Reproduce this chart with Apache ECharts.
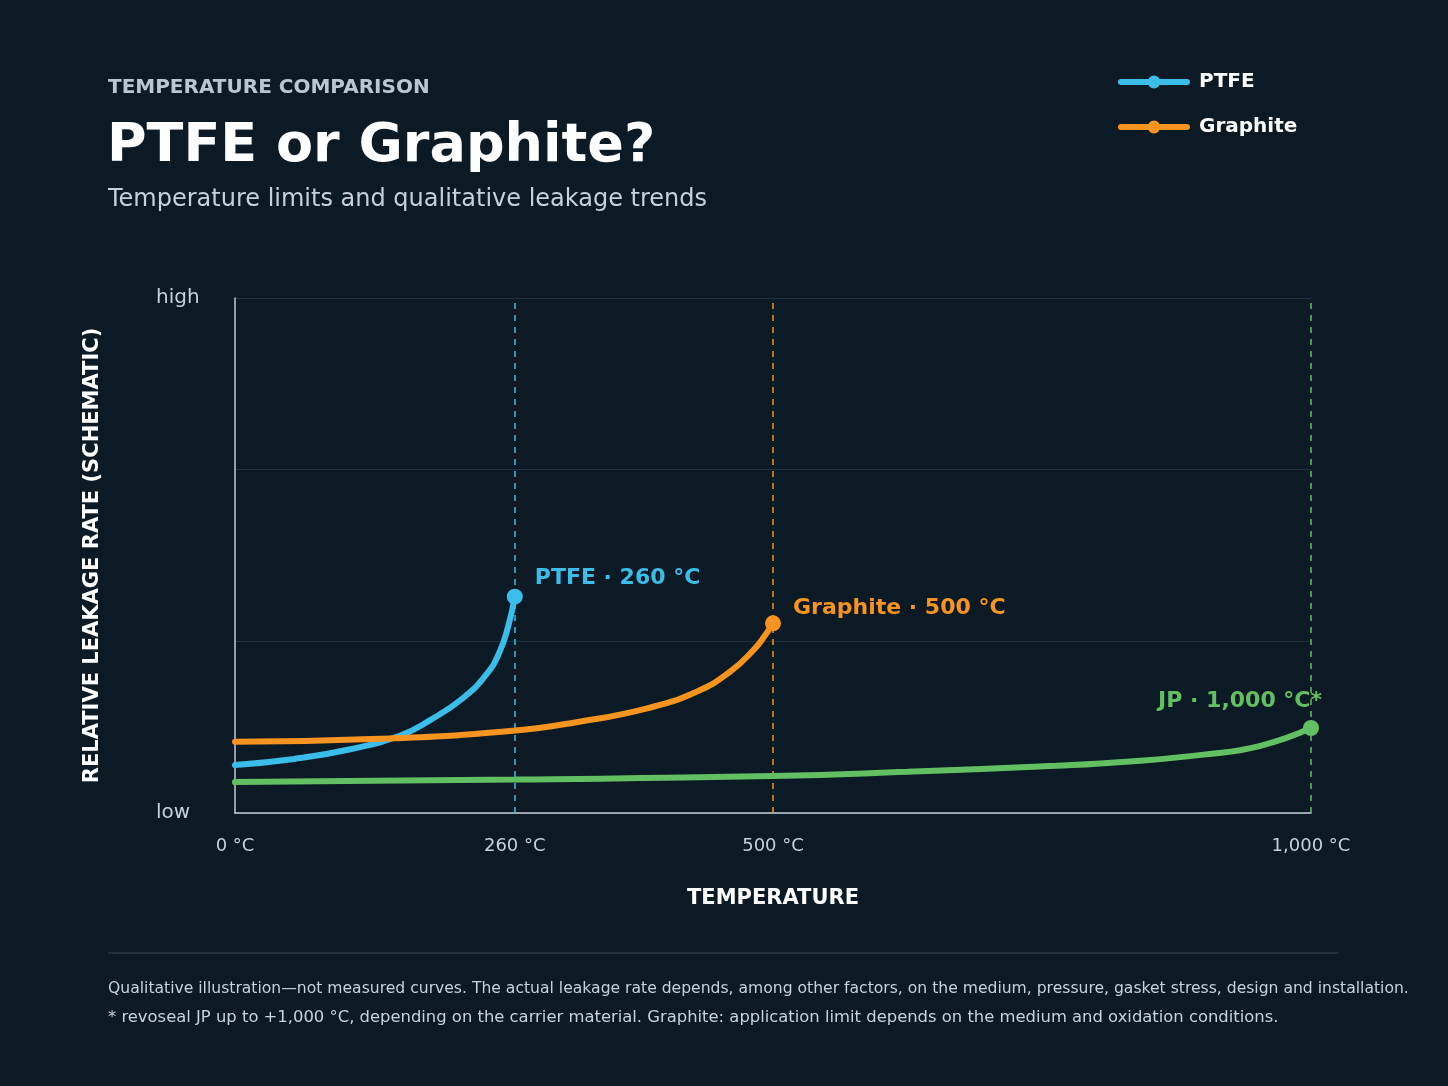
<!DOCTYPE html>
<html>
<head>
<meta charset="utf-8">
<title>PTFE or Graphite?</title>
<script src="https://cdn.jsdelivr.net/npm/echarts@6.0.0/dist/echarts.min.js"></script>
<style>
    html, body { margin: 0; padding: 0; background: #0c1a26; }
    #chart { width: 1448px; height: 1086px; }
</style>
</head>
<body>
<div id="chart"></div>
<script>
// values (temperature in °C, leakage is schematic 0..3)
var ptfeTemp = [0, 55, 106, 153, 181, 212, 234, 246, 254, 260];
var ptfeLeak = [0.28, 0.315, 0.37, 0.45, 0.54, 0.67, 0.81, 0.94, 1.09, 1.26];

var graphiteTemp = [0, 135, 258, 320, 383, 429, 460, 482, 494, 500];
var graphiteLeak = [0.415, 0.432, 0.479, 0.532, 0.61, 0.707, 0.823, 0.95, 1.047, 1.105];

var jpTemp = [0, 260, 500, 625, 763, 832, 900, 952, 1000];
var jpLeak = [0.18, 0.195, 0.215, 0.24, 0.275, 0.30, 0.34, 0.39, 0.495];

var xTickValues = [0, 260, 500, 1000];
var yTickValues = [0, 3];
var yTickLabels = ['low', 'high'];
var limitLabels = ['PTFE · 260 °C', 'Graphite · 500 °C', 'JP · 1,000 °C*'];

var FONT = 'DejaVu Sans';
var BLUE = '#3bbdea', ORANGE = '#f7941f', GREEN = '#62c063';

function makeSeries(name, temps, leaks, color, label, labelCfg) {
    var last = temps.length - 1;
    var data = temps.map(function (t, i) {
        if (i !== last) {
            return { value: [t, leaks[i]], symbol: 'none' };
        }
        return {
            value: [t, leaks[i]],
            symbolSize: 16,
            label: Object.assign({
                show: true,
                formatter: label,
                color: color,
                fontFamily: FONT,
                fontSize: 22,
                fontWeight: 'bold'
            }, labelCfg)
        };
    });
    return {
        name: name,
        type: 'line',
        data: data,
        smooth: 0.5,
        symbol: 'circle',
        symbolSize: 16,
        lineStyle: { color: color, width: 6, cap: 'round' },
        itemStyle: { color: color },
        z: 3,
        markLine: {
            silent: true,
            symbol: 'none',
            label: { show: false },
            lineStyle: { color: color, type: [6, 6], width: 1.5 },
            data: [{ xAxis: temps[last] }],
            z: 1
        }
    };
}

function init() {
    var myChart = echarts.init(document.getElementById('chart'));

    var option = {
        backgroundColor: '#0c1a26',
        animation: false,
        title: [{
            text: 'TEMPERATURE COMPARISON',
            left: 108, top: 78, padding: 0,
            textStyle: { color: '#bcc6d0', fontFamily: FONT, fontSize: 20, fontWeight: 'bold' }
        }, {
            text: 'PTFE or Graphite?',
            left: 107, top: 120, padding: 0,
            textStyle: { color: '#ffffff', fontFamily: FONT, fontSize: 54, fontWeight: 'bold' }
        }, {
            text: 'Temperature limits and qualitative leakage trends',
            left: 108, top: 188, padding: 0,
            textStyle: { color: '#c8d0d8', fontFamily: FONT, fontSize: 24, fontWeight: 'normal' }
        }],
        legend: {
            data: ['PTFE', 'Graphite'],
            orient: 'vertical',
            left: 1118,
            top: 72,
            padding: 0,
            itemWidth: 66,
            itemHeight: 16,
            itemGap: 25,
            lineStyle: { width: 6, cap: 'round' },
            textStyle: {
                color: '#ffffff', fontFamily: FONT, fontSize: 20, fontWeight: 'bold',
                padding: [0, 0, 0, 7]
            }
        },
        grid: { left: 235, right: 137, top: 298, bottom: 273 },
        xAxis: {
            type: 'value',
            min: 0,
            max: 1000,
            name: 'TEMPERATURE',
            nameLocation: 'middle',
            nameGap: 75,
            nameTextStyle: { color: '#ffffff', fontFamily: FONT, fontSize: 21, fontWeight: 'bold' },
            axisLine: { lineStyle: { color: '#c5cdd6', width: 1.5 } },
            axisTick: { show: false },
            splitLine: { show: false },
            axisLabel: {
                customValues: xTickValues,
                formatter: function (v) { return v.toLocaleString('en-US') + ' °C'; },
                color: '#c8d0d8',
                fontFamily: FONT,
                fontSize: 18,
                margin: 24
            }
        },
        yAxis: {
            type: 'value',
            min: 0,
            max: 3,
            interval: 1,
            name: 'RELATIVE LEAKAGE RATE (SCHEMATIC)',
            nameLocation: 'middle',
            nameGap: 132,
            nameTextStyle: { color: '#ffffff', fontFamily: FONT, fontSize: 21, fontWeight: 'bold' },
            axisLine: { show: true, lineStyle: { color: '#c5cdd6', width: 1.5 } },
            axisTick: { show: false },
            splitLine: { lineStyle: { color: '#213140', width: 1 } },
            axisLabel: {
                customValues: yTickValues,
                formatter: function (v) { return yTickLabels[yTickValues.indexOf(v)]; },
                align: 'left',
                color: '#c8d0d8',
                fontFamily: FONT,
                fontSize: 20,
                margin: 79
            }
        },
        series: [
            makeSeries('PTFE', ptfeTemp, ptfeLeak, BLUE, limitLabels[0],
                { position: 'right', distance: 12, offset: [0, -18] }),
            makeSeries('Graphite', graphiteTemp, graphiteLeak, ORANGE, limitLabels[1],
                { position: 'right', distance: 12, offset: [0, -15] }),
            makeSeries('JP', jpTemp, jpLeak, GREEN, limitLabels[2],
                { position: 'left', distance: 5, offset: [24, -27] })
        ],
        graphic: [{
            type: 'line',
            shape: { x1: 108, y1: 953, x2: 1338, y2: 953 },
            style: { stroke: '#2a3947', lineWidth: 1.5 }
        }, {
            type: 'text',
            x: 108, y: 989,
            style: {
                text: 'Qualitative illustration\u2014not measured curves. The actual leakage rate depends, among other factors, on the medium, pressure, gasket stress, design and installation.',
                fill: '#c9d1d9', font: '15.6px "DejaVu Sans"', verticalAlign: 'middle'
            }
        }, {
            type: 'text',
            x: 108, y: 1018,
            style: {
                text: '* revoseal JP up to +1,000 °C, depending on the carrier material. Graphite: application limit depends on the medium and oxidation conditions.',
                fill: '#c9d1d9', font: '16.4px "DejaVu Sans"', verticalAlign: 'middle'
            }
        }]
    };

    myChart.setOption(option);
}

init();
</script>
</body>
</html>
